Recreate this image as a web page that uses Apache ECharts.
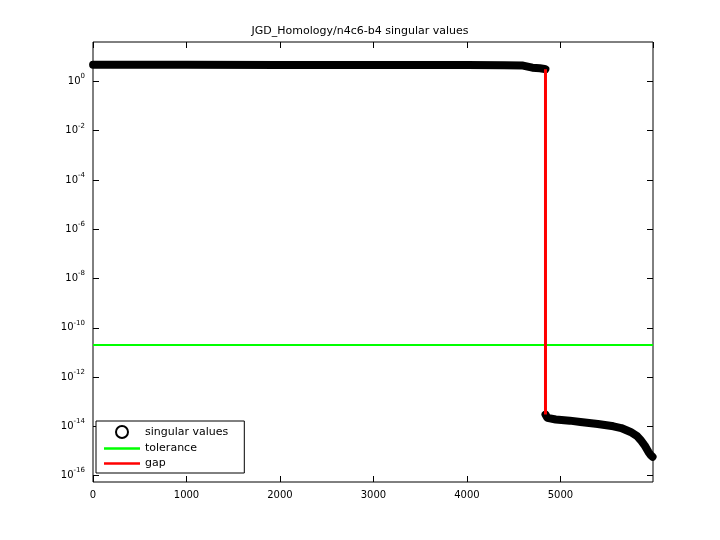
<!DOCTYPE html>
<html>
<head>
<meta charset="UTF-8">
<script src="https://cdn.jsdelivr.net/npm/echarts@6/dist/echarts.min.js"></script>
<style>body{margin:0;background:#fff}#c{width:720px;height:540px}</style>
</head>
<body>
<div id="c"></div>
<script>
// singular values (index, value)
const upperIdx = [1, 500, 1000, 2000, 3000, 4000, 4400, 4600, 4700, 4780, 4830, 4839];
const upperVal = [4.7, 4.7, 4.7, 4.6, 4.6, 4.6, 4.5, 4.4, 3.6, 3.4, 3.2, 3.1];
const lowerIdx = [4840, 4860, 4950, 5100, 5214, 5400, 5567, 5650, 5750, 5820, 5857, 5900, 5942, 5970, 5985];
const lowerVal = [3.0e-14, 2.2e-14, 1.9e-14, 1.7e-14, 1.5e-14, 1.25e-14, 1.0e-14, 8.5e-15, 5.9e-15, 4.0e-15, 2.8e-15, 1.7e-15, 9e-16, 6.5e-16, 5.8e-16];
const tolerance = 2e-11;
const gapX = 4840;
const yTicks = [0, -2, -4, -6, -8, -10, -12, -14, -16];

const lg = v => Math.log10(v);
const pts = upperIdx.map((x, i) => [x, lg(upperVal[i])]);
const pts2 = lowerIdx.map((x, i) => [x, lg(lowerVal[i])]);

const xBase = {type: 'value', min: 0, max: 5990, interval: 1000,
  axisLine: {show: false, onZero: false}, splitLine: {show: false},
  axisTick: {inside: true, length: 6, lineStyle: {color: '#000'}}};
const yBase = {type: 'value', min: -16.26, max: 1.6, interval: 2,
  axisLine: {show: false, onZero: false}, splitLine: {show: false},
  axisTick: {inside: true, length: 6, lineStyle: {color: '#000'}, customValues: yTicks}};
const lineIcon = 'path://M0,0H30V2H0Z';

const chart = echarts.init(document.getElementById('c'));
chart.setOption({
  animation: false,
  title: {text: 'JGD_Homology/n4c6-b4 singular values', left: 'center', top: 21,
    textStyle: {fontSize: 11, fontWeight: 'normal', color: '#000', fontFamily: 'DejaVu Sans'}},
  grid: {left: 93, right: 67, top: 42, bottom: 58, show: true, borderColor: '#000', borderWidth: 1},
  legend: {
    left: 96, top: 421, orient: 'vertical', itemGap: 4, itemWidth: 36, itemHeight: 12,
    backgroundColor: '#fff', borderColor: '#000', borderWidth: 1, padding: [4, 16, 4, 8],
    textStyle: {fontSize: 11, color: '#000', fontFamily: 'DejaVu Sans'},
    data: [
      {name: 'singular values', icon: 'path://M15,0A3,3,0,1,1,15.01,0Z', itemStyle: {color: '#fff', borderColor: '#000', borderWidth: 2}},
      {name: 'tolerance', icon: lineIcon, itemStyle: {color: '#00ff00'}},
      {name: 'gap', icon: lineIcon, itemStyle: {color: '#ff0000'}}
    ]
  },
  xAxis: [
    Object.assign({}, xBase, {axisLabel: {color: '#000', fontSize: 10, fontFamily: 'DejaVu Sans', showMaxLabel: false, formatter: v => String(v)}}),
    Object.assign({}, xBase, {position: 'top', axisLabel: {show: false}})
  ],
  yAxis: [
    Object.assign({}, yBase, {axisLabel: {customValues: yTicks, color: '#000', fontSize: 10, fontFamily: 'DejaVu Sans',
      formatter: v => '{b|10}{s|' + Math.round(v) + '}',
      rich: {b: {fontSize: 10, color: '#000'}, s: {fontSize: 7, color: '#000', verticalAlign: 'bottom', padding: [0, 0, 10, 0]}}}}),
    Object.assign({}, yBase, {position: 'right', axisLabel: {show: false}})
  ],
  series: [
    {name: 'singular values', type: 'line', data: pts, showSymbol: false,
      lineStyle: {color: '#000', width: 8, cap: 'round', join: 'round'}, itemStyle: {color: '#000'}, z: 3},
    {name: 'singular values', type: 'line', data: pts2, showSymbol: false,
      lineStyle: {color: '#000', width: 8, cap: 'round', join: 'round'}, itemStyle: {color: '#000'}, z: 3},
    {name: 'tolerance', type: 'line', data: [[0, lg(tolerance)], [5990, lg(tolerance)]], showSymbol: false,
      lineStyle: {color: '#00ff00', width: 2}, itemStyle: {color: '#00ff00'}},
    {name: 'gap', type: 'line', data: [[gapX, lg(upperVal[upperVal.length - 1])], [gapX, lg(lowerVal[0])]], showSymbol: false,
      lineStyle: {color: '#ff0000', width: 3}, itemStyle: {color: '#ff0000'}, z: 4}
  ]
});
</script>
</body>
</html>
